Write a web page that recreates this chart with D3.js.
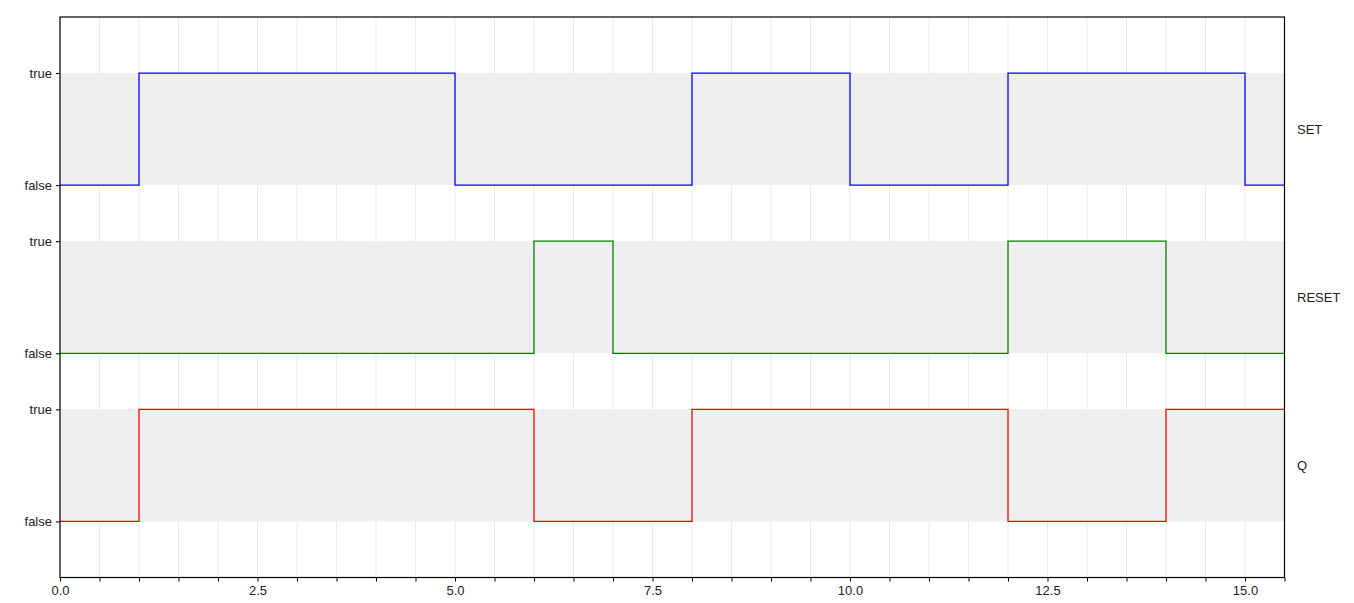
<!DOCTYPE html>
<html>
<head>
<meta charset="utf-8">
<script src="https://cdn.jsdelivr.net/npm/d3@7"></script>
<style>
  html, body { margin: 0; padding: 0; background: #fff; }
  text { font-family: "Liberation Sans", Arial, Helvetica, sans-serif; }
</style>
</head>
<body>
<svg id="chart" width="1354" height="603"></svg>
<script>
// ---- data ----
const signalNames = ["SET", "RESET", "Q"];
const times = [0, 1, 5, 6, 7, 8, 10, 12, 14, 15, 15.5];
const setValues   = [0, 1, 0, 0, 0, 1, 0, 1, 1, 0, 0];
const resetValues = [0, 0, 0, 1, 0, 0, 0, 1, 0, 0, 0];
const qValues     = [0, 1, 1, 0, 0, 1, 1, 0, 1, 1, 1];
const signalColors = ["#0000ff", "#008000", "#ff0000"];
const stateLabels = ["false", "true"];
const xDomain = [0, 15.5];
const xTickStep = 0.5;
const xLabelEvery = 2.5;

// ---- layout ----
const svg = d3.select("#chart");
const margin = { left: 60, top: 17, right: 1354 - 1284.5, bottom: 603 - 577.5 };
const W = 1354 - margin.left - margin.right;
const H = 603 - margin.top - margin.bottom;

const x = d3.scaleLinear().domain(xDomain).range([0, W]);
// vertical: each track = pad(0.5) + band(1) ; total 5 units
const yUnit = d3.scaleLinear().domain([0, 5]).range([0, H]);
const seriesValues = [setValues, resetValues, qValues];
const trackY = (i) => d3.scaleLinear().domain([0, 1])
  .range([yUnit(0.5 + i * 1.5 + 1), yUnit(0.5 + i * 1.5)]);

const g = svg.append("g").attr("transform", `translate(${margin.left},${margin.top})`);

svg.append("defs").append("clipPath").attr("id", "clip")
  .append("rect").attr("x", 0).attr("y", 0).attr("width", W).attr("height", H);

// grid lines
const gridTicks = d3.range(xDomain[0], xDomain[1] + 1e-9, xTickStep);
g.append("g").selectAll("line").data(gridTicks).join("line")
  .attr("x1", d => x(d)).attr("x2", d => x(d))
  .attr("y1", 0).attr("y2", H)
  .attr("stroke", "#ebebeb").attr("stroke-width", 1);

// bands
signalNames.forEach((name, i) => {
  const y = trackY(i);
  g.append("rect")
    .attr("x", 0).attr("width", W)
    .attr("y", y(1)).attr("height", y(0) - y(1))
    .attr("fill", "#efefef");
});

// signal lines
signalNames.forEach((name, i) => {
  const y = trackY(i);
  const vals = seriesValues[i];
  const pts = times.map((t, k) => [t, vals[k]]);
  const line = d3.line().x(d => x(d[0])).y(d => y(d[1])).curve(d3.curveStepAfter);
  g.append("path")
    .attr("d", line(pts))
    .attr("fill", "none")
    .attr("stroke", signalColors[i])
    .attr("stroke-width", 1.3)
    .attr("clip-path", "url(#clip)");
});

// left axes per track
signalNames.forEach((name, i) => {
  const y = trackY(i);
  const ax = g.append("g")
    .call(d3.axisLeft(y).tickValues([0, 1]).tickSize(4).tickPadding(4)
      .tickFormat(d => stateLabels[d]));
  ax.select(".domain").remove();
  ax.selectAll("line").attr("stroke", "#000");
  ax.selectAll("text").attr("font-size", 13).attr("fill", "#222")
    .attr("font-family", '"Liberation Sans", Arial, sans-serif');
});

// right labels
signalNames.forEach((name, i) => {
  const y = trackY(i);
  g.append("text")
    .attr("x", W + 12.5)
    .attr("y", (y(0) + y(1)) / 2)
    .attr("dy", "0.35em")
    .attr("font-size", 13)
    .attr("fill", "#222")
    .text(name);
});

// bottom axis
const xAxis = g.append("g").attr("transform", `translate(0,${H})`)
  .call(d3.axisBottom(x).tickValues(gridTicks).tickSize(4).tickPadding(4)
    .tickFormat(d => (Math.abs(d / xLabelEvery - Math.round(d / xLabelEvery)) < 1e-9) ? d3.format(".1f")(d) : ""));
xAxis.select(".domain").remove();
xAxis.selectAll("line").attr("stroke", "#000");
xAxis.selectAll("text").attr("font-size", 13).attr("fill", "#222")
  .attr("font-family", '"Liberation Sans", Arial, sans-serif');

// frame
g.append("rect").attr("x", 0).attr("y", 0).attr("width", W).attr("height", H)
  .attr("fill", "none").attr("stroke", "#000").attr("stroke-width", 1.2);
</script>
</body>
</html>
